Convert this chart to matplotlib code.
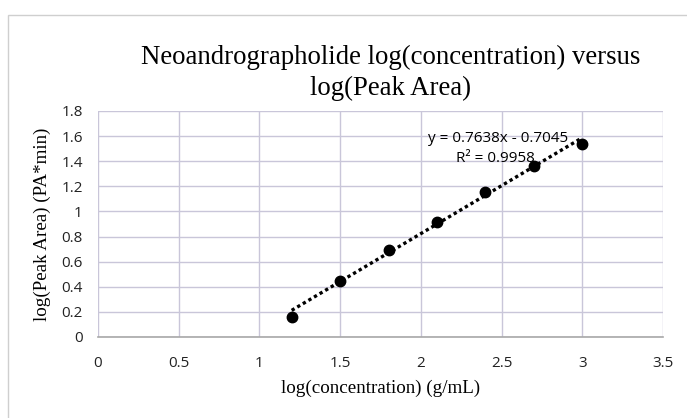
import matplotlib.pyplot as plt
import numpy as np
from matplotlib.patches import Rectangle

# log(concentration) vs log(peak area)
log_conc = [1.2, 1.5, 1.8, 2.1, 2.4, 2.7, 3.0]
log_area = [0.16, 0.447, 0.69, 0.917, 1.153, 1.358, 1.54]

# linear trendline coefficients
slope = 0.7638
intercept = -0.7045
r2 = 0.9958

serif = ['Liberation Serif', 'DejaVu Serif']
sans = ['Open Sans', 'Liberation Sans', 'DejaVu Sans']

fig = plt.figure(figsize=(6.87, 4.18), dpi=100)
fig.patch.set_facecolor('white')
ax = fig.add_axes([0.1426, 0.1938, 0.8224, 0.5407])

# chart frame
fig.patches.append(Rectangle((0.011, -0.01), 1.0, 0.975, transform=fig.transFigure,
                             fill=False, edgecolor='#cfcfcf', linewidth=1.0))

grid_c = '#c9c6d9'
ax.set_xlim(0, 3.5)
ax.set_ylim(0, 1.8)
ax.set_xticks(np.arange(0, 3.51, 0.5))
ax.set_yticks(np.arange(0, 1.81, 0.2))
ax.set_xticklabels(['0', '0.5', '1', '1.5', '2', '2.5', '3', '3.5'])
ax.set_yticklabels(['0', '0.2', '0.4', '0.6', '0.8', '1', '1.2', '1.4', '1.6', '1.8'])
ax.grid(True, color=grid_c, linewidth=1.0)
ax.set_axisbelow(True)
for s in ['top', 'right', 'left']:
    ax.spines[s].set_visible(False)
ax.spines['bottom'].set_color('#a8a8a8')
ax.spines['bottom'].set_linewidth(1.2)
ax.tick_params(length=0, labelsize=11, labelcolor='#222222')
ax.tick_params(axis='y', pad=11)
ax.tick_params(axis='x', pad=14)
for lab in ax.get_xticklabels() + ax.get_yticklabels():
    lab.set_family(sans)

xfit = np.array([log_conc[0], log_conc[-1]])
ax.plot(xfit, slope * xfit + intercept, color='black', linestyle=(0, (1, 0.95)),
        linewidth=2.4, zorder=3)
ax.plot(log_conc, log_area, 'o', color='black', markersize=7.5, zorder=4)

ax.text(2.91, 1.578, f'y = {slope}x - {-intercept}', ha='right', va='center',
        fontsize=11, family=sans)
ax.text(2.464, 1.42, f'R² = {r2}', ha='center', va='center',
        fontsize=11, family=sans)

ax.set_xlabel('log(concentration) (g/mL)', family=serif, fontsize=13.7)
ax.set_ylabel('log(Peak Area) (PA*min)', family=serif, fontsize=13.7)
ax.xaxis.label.set_va('center')
ax.yaxis.label.set_va('center')
ax.xaxis.set_label_coords(0.5, -0.229)
ax.yaxis.set_label_coords(-0.099, 0.5)
fig.text(0.568, 0.826, 'Neoandrographolide log(concentration) versus\nlog(Peak Area)',
         ha='center', va='center', family=serif, fontsize=19.3, linespacing=1.3)

fig.savefig('out.png', dpi=100)
